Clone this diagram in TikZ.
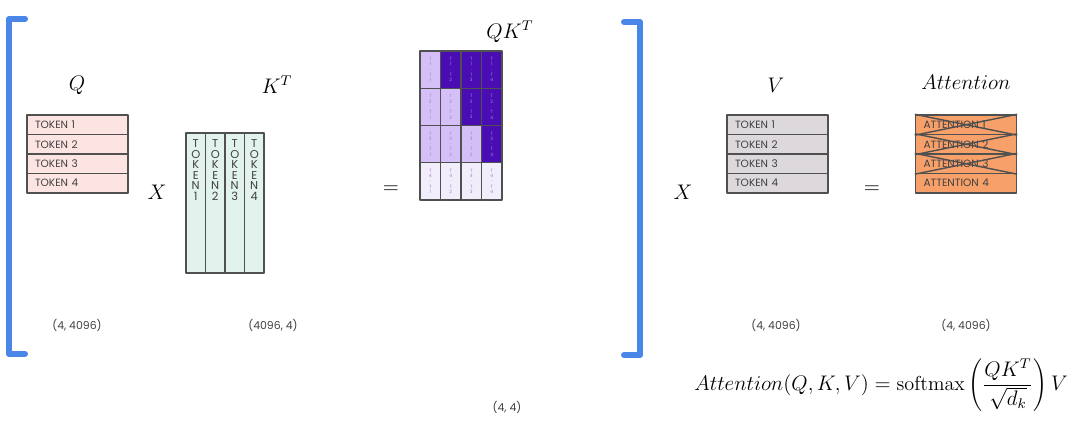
\documentclass[tikz,border=0pt]{standalone}
\usepackage{fontspec}
\setsansfont{Poppins}
\definecolor{edge}{HTML}{505050}
\definecolor{txt}{HTML}{404040}
\definecolor{qfill}{HTML}{FCE4E2}
\definecolor{kfill}{HTML}{E2F2EC}
\definecolor{vfill}{HTML}{DCD8DC}
\definecolor{afill}{HTML}{F7A06A}
\definecolor{qkdark}{HTML}{4A0DB3}
\definecolor{qklight}{HTML}{D4C0F6}
\definecolor{qkpale}{HTML}{F2EDFB}
\definecolor{qktext}{HTML}{9A86C4}
\definecolor{brblue}{HTML}{4A86E8}
\begin{document}
\begin{tikzpicture}[x=0.02cm, y=-0.02cm, line join=round, >=stealth,
	row/.style={draw=edge, line width=0.8pt, minimum width=2.02cm, minimum height=0.39cm, inner sep=0pt, text width=1.7cm, align=left, text=txt, font=\sffamily\fontsize{6}{7}\selectfont},
	kcol/.style={draw=edge, line width=0.8pt, fill=kfill, minimum width=0.39cm, minimum height=2.8cm, inner sep=0pt},
	ktext/.style={anchor=north, align=center, inner sep=0pt, text=txt, font=\sffamily\fontsize{6.5}{6}\selectfont},
	cell/.style={draw=edge, line width=0.8pt, minimum width=0.41cm, minimum height=0.745cm, inner sep=0pt, align=center, text=qktext, font=\sffamily\fontsize{2.6}{3}\selectfont},
	lbl/.style={font=\fontsize{12}{14}\selectfont},
	dim/.style={text=txt, font=\sffamily\fontsize{6.2}{7}\selectfont},
	bracket/.style={draw=brblue, line width=3.4pt, line cap=round}]
	\useasboundingbox (0,0) rectangle (1080,448);
	% brackets
	\draw[bracket] (25,19) -- (9,19) -- (9,354) -- (25,354);
	\draw[bracket] (624,22) -- (640,22) -- (640,355) -- (624,355);
	% Q
	\node[lbl] (qlbl) at (77,85) {$Q$};
	\foreach \i in {1,...,4}
		\node[row, fill=qfill] (q\i) at (77.5,{105.25+19.5*\i}) {TOKEN \i};
	\node[dim] (qdim) at (77,325) {(4, 4096)};
	\node[lbl] (x1) at (157,192) {$X$};
	% K^T
	\node[lbl] (klbl) at (277,85) {$K^T$};
	\foreach \j in {1,...,4} {
		\node[kcol] (k\j) at ({176.25+19.5*\j},203) {};
		\node[ktext] (kt\j) at ([yshift=-4pt]k\j.north) {T\\O\\K\\E\\N\\\j};
	}
	\node[dim] (kdim) at (273,325) {(4096, 4)};
	\node[lbl] (eq1) at (391,190) {$=$};
	% QK^T
	\node[lbl] (qklbl) at (510,32) {$QK^T$};
	\foreach \r in {1,...,4}
		\foreach \c in {1,...,4} {
			\ifnum\r=4 \def\cellc{qkpale}\else\ifnum\c>\r \def\cellc{qkdark}\else\def\cellc{qklight}\fi\fi
			\node[cell, fill=\cellc] (qk\r\c) at ({409.75+20.5*\c},{32.375+37.25*\r}) {T\\\r\\·\\T\\\c};
		}
	\node[dim] (qkdim) at (507,407) {(4, 4)};
	% V
	\node[lbl] (x2) at (683,192) {$X$};
	\node[lbl] (vlbl) at (776,85) {$V$};
	\foreach \i in {1,...,4}
		\node[row, fill=vfill] (v\i) at (777.5,{105.25+19.5*\i}) {TOKEN \i};
	\node[dim] (vdim) at (776,325) {(4, 4096)};
	\node[lbl] (eq2) at (872,190) {$=$};
	% Attention
	\node[lbl] (albl) at (966,82) {$Attention$};
	\foreach \i in {1,...,4}
		\node[row, fill=afill] (a\i) at (966,{105.25+19.5*\i}) {ATTENTION \i};
	\foreach \i in {1,...,3}
		\draw[edge, line width=0.8pt] (a\i.north west) -- (a\i.south east) (a\i.north east) -- (a\i.south west);
	\node[dim] (adim) at (966,325) {(4, 4096)};
	% formula
	\node[font=\fontsize{11.5}{14}\selectfont] (formula) at (881,385) {$\displaystyle Attention(Q,K,V)=\mathrm{softmax}\left(\frac{QK^T}{\sqrt{d_k}}\right)V$};
\end{tikzpicture}
\end{document}
